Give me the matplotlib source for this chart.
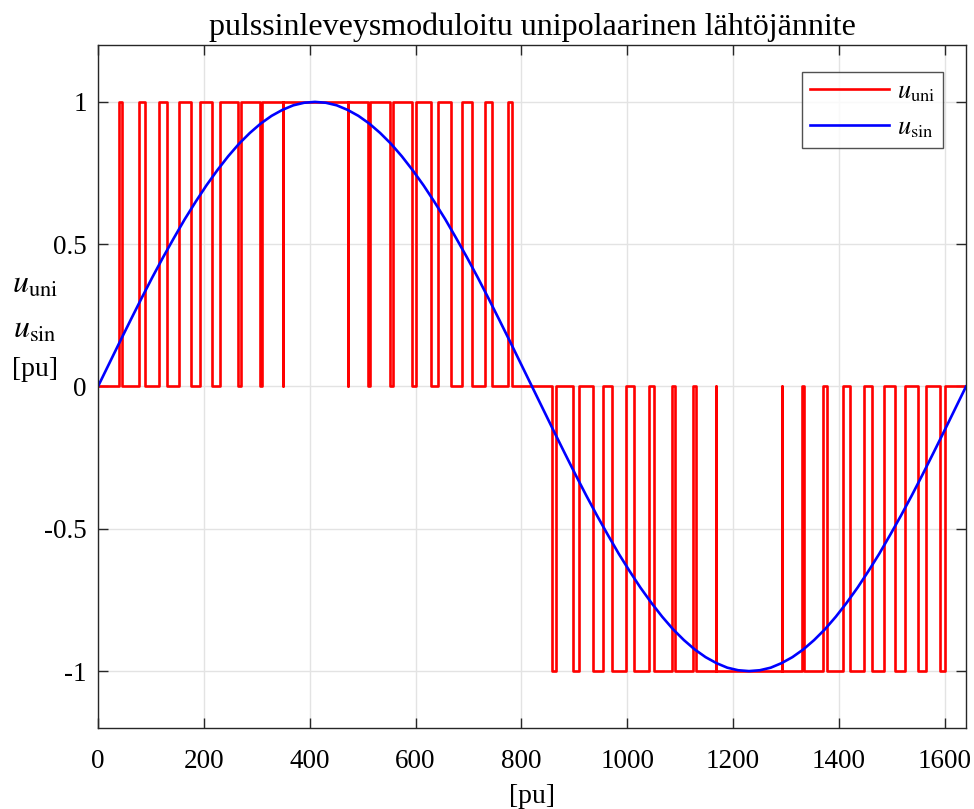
import matplotlib
matplotlib.use("Agg")
import matplotlib.pyplot as plt

plt.rcParams['font.family'] = ['Liberation Serif', 'DejaVu Serif']
plt.rcParams['mathtext.fontset'] = 'stix'

# unipolar PWM: (rise, fall) edges of +1 pulses
pos_rise = [39, 77, 115, 153, 192, 230, 270, 309, 350.5, 472.5, 513.5, 557, 600, 643, 687, 731, 775]
pos_fall = [45, 88, 131, 176, 216, 265, 306.5, 349.5, 471.5, 509.5, 551, 592.5, 630, 667, 706, 744.5, 783]
# (start, end) edges of -1 pulses
neg_start = [857, 897, 934.5, 972, 1012.5, 1050.5, 1090, 1129, 1168.5, 1292.5, 1334.5, 1377, 1420, 1462, 1506, 1549, 1591]
neg_end = [865, 909.5, 953.5, 997.5, 1040.5, 1084, 1125, 1167.5, 1291.5, 1329.5, 1369, 1408, 1447, 1485, 1525, 1564, 1601]
x_end = 1640

# reference sine, read every 20.5 pu
sin_x = [20.5 * k for k in range(81)]
sin_y = [0, 0.078, 0.156, 0.233, 0.309, 0.383, 0.454, 0.522, 0.588, 0.649,
         0.707, 0.760, 0.809, 0.853, 0.891, 0.924, 0.951, 0.972, 0.988, 0.997,
         1.0, 0.997, 0.988, 0.972, 0.951, 0.924, 0.891, 0.853, 0.809, 0.760,
         0.707, 0.649, 0.588, 0.522, 0.454, 0.383, 0.309, 0.233, 0.156, 0.078,
         0, -0.078, -0.156, -0.233, -0.309, -0.383, -0.454, -0.522, -0.588, -0.649,
         -0.707, -0.760, -0.809, -0.853, -0.891, -0.924, -0.951, -0.972, -0.988, -0.997,
         -1.0, -0.997, -0.988, -0.972, -0.951, -0.924, -0.891, -0.853, -0.809, -0.760,
         -0.707, -0.649, -0.588, -0.522, -0.454, -0.383, -0.309, -0.233, -0.156, -0.078, 0]

# build the step waveform from the edges
ux, uy = [0], [0]
for a, b in zip(pos_rise, pos_fall):
    ux += [a, a, b, b]
    uy += [0, 1, 1, 0]
for a, b in zip(neg_start, neg_end):
    ux += [a, a, b, b]
    uy += [0, -1, -1, 0]
ux.append(x_end)
uy.append(0)

fig = plt.figure(figsize=(9.74, 8.09), dpi=100)
ax = fig.add_axes([0.1006, 0.1001, 0.8912, 0.8443])

ax.plot(ux, uy, color='red', lw=1.9, label=r'$u_{\rm uni}$')
ax.plot(sin_x, sin_y, color='blue', lw=1.9, label=r'$u_{\rm sin}$')

ax.set_xlim(0, x_end)
ax.set_ylim(-1.2, 1.2)
ax.set_xticks(range(0, 1601, 200))
ax.set_yticks([-1, -0.5, 0, 0.5, 1])
ax.set_yticklabels(['-1', '-0.5', '0', '0.5', '1'])
ax.tick_params(direction='in', top=True, right=True, labelsize=19.5, length=7,
               width=1, colors='#262626', labelcolor='black')
ax.tick_params(axis='x', pad=15)
ax.tick_params(axis='y', pad=8)
for s in ax.spines.values():
    s.set_color('#262626')
    s.set_linewidth(1)
ax.grid(True, color='#e3e3e3', lw=1)
ax.set_axisbelow(True)

ax.set_title('pulssinleveysmoduloitu unipolaarinen lähtöjännite', fontsize=23, pad=7)
ax.set_xlabel('[pu]', fontsize=20, labelpad=7)

fig.text(0.036, 0.647, r'$u_{\rm uni}$', fontsize=23, ha='center', va='center')
fig.text(0.036, 0.592, r'$u_{\rm sin}$', fontsize=23, ha='center', va='center')
fig.text(0.036, 0.543, '[pu]', fontsize=20, ha='center', va='center')

leg = ax.legend(loc='upper right', bbox_to_anchor=(0.9735, 0.9605), borderaxespad=0,
                fontsize=19, frameon=True, fancybox=False, edgecolor='#262626',
                handlelength=3.0, handletextpad=0.3, borderpad=0.3, labelspacing=0.45)
leg.get_frame().set_linewidth(1)

fig.savefig('out.png', dpi=100)
